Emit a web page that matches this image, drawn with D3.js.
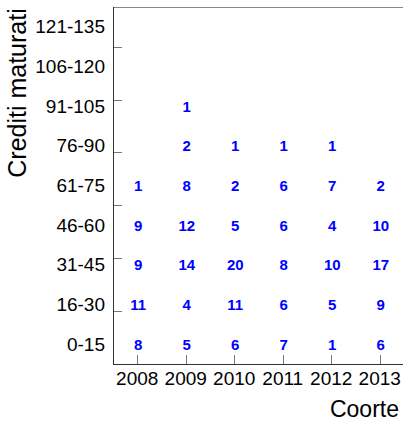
<!DOCTYPE html>
<meta charset="utf-8">
<style>
body { margin: 0; background: #fff; }
text { font-family: "Liberation Sans", Arial, sans-serif; }
.cell { fill: #0000ff; font-weight: bold; font-size: 15px; }
.tick-label { font-size: 19px; fill: #000; }
.title { font-size: 23px; fill: #000; }
</style>
<svg width="403" height="421"></svg>
<script src="https://d3js.org/d3.v7.min.js"></script>
<script>

var years = [2008, 2009, 2010, 2011, 2012, 2013];
var bands = ["0-15", "16-30", "31-45", "46-60", "61-75", "76-90", "91-105", "106-120", "121-135"];
var yTicks = [20, 40, 60, 80, 100, 120];

// counts per cohort, from band 0-15 upwards
var c2008 = [8, 11, 9, 9, 1];
var c2009 = [5, 4, 14, 12, 8, 2, 1];
var c2010 = [6, 11, 20, 5, 2, 1];
var c2011 = [7, 6, 8, 6, 6, 1];
var c2012 = [1, 5, 10, 4, 7, 1];
var c2013 = [6, 9, 17, 10, 2];
var counts = [c2008, c2009, c2010, c2011, c2012, c2013];

var svg = d3.select("svg");
var pLeft = 113, pRight = 404, pTop = 7, pBottom = 364;

var x = d3.scaleLinear().domain([2007.5, 2013.5]).range([pLeft, pRight]);
var y = d3.scaleLinear().domain([0, 135]).range([pBottom, pTop]);

var cells = [];
counts.forEach(function(col, i) {
  col.forEach(function(v, j) {
    cells.push({year: years[i], band: j, value: v});
  });
});

// frame
svg.append("line")
    .attr("x1", pLeft).attr("x2", pRight + 5)
    .attr("y1", pTop + 0.5).attr("y2", pTop + 0.5)
    .attr("stroke", "#888").attr("stroke-width", 1);

// ticks (inside)
svg.append("g").selectAll("line")
  .data(yTicks)
  .enter().append("line")
    .attr("x1", pLeft).attr("x2", pLeft + 9)
    .attr("y1", function(d) { return Math.round(y(d)) + 0.5; })
    .attr("y2", function(d) { return Math.round(y(d)) + 0.5; })
    .attr("stroke", "#777");

svg.append("g").selectAll("line")
  .data(years)
  .enter().append("line")
    .attr("x1", function(d) { return Math.round(x(d)) + 0.5; })
    .attr("x2", function(d) { return Math.round(x(d)) + 0.5; })
    .attr("y1", pBottom).attr("y2", pBottom - 9)
    .attr("stroke", "#777");

svg.append("line")
    .attr("x1", pLeft + 0.5).attr("x2", pLeft + 0.5)
    .attr("y1", pTop).attr("y2", pBottom + 0.5)
    .attr("stroke", "#333");
svg.append("line")
    .attr("x1", pLeft).attr("x2", pRight + 5)
    .attr("y1", pBottom + 0.5).attr("y2", pBottom + 0.5)
    .attr("stroke", "#333");

// tick labels
svg.append("g").selectAll("text")
  .data(bands)
  .enter().append("text")
    .attr("class", "tick-label")
    .attr("x", pLeft - 8)
    .attr("y", function(d, i) { return y(15 * i + 7.5); })
    .attr("dy", "0.35em")
    .attr("text-anchor", "end")
    .text(function(d) { return d; });

svg.append("g").selectAll("text")
  .data(years)
  .enter().append("text")
    .attr("class", "tick-label")
    .attr("x", function(d) { return x(d); })
    .attr("y", pBottom + 21)
    .attr("text-anchor", "middle")
    .text(function(d) { return d; });

// counts
svg.append("g").selectAll("text")
  .data(cells)
  .enter().append("text")
    .attr("class", "cell")
    .attr("x", function(d) { return x(d.year) + 1; })
    .attr("y", function(d) { return y(15 * d.band + 7.5); })
    .attr("dy", "0.36em")
    .attr("text-anchor", "middle")
    .text(function(d) { return d.value; });

// axis titles
svg.append("text")
    .attr("class", "title")
    .attr("x", 399).attr("y", 417)
    .attr("text-anchor", "end")
    .text("Coorte");

svg.append("text")
    .attr("class", "title")
    .attr("transform", "translate(26,93) rotate(-90)")
    .attr("text-anchor", "middle")
    .style("font-size", "25px")
    .text("Crediti maturati");

</script>
